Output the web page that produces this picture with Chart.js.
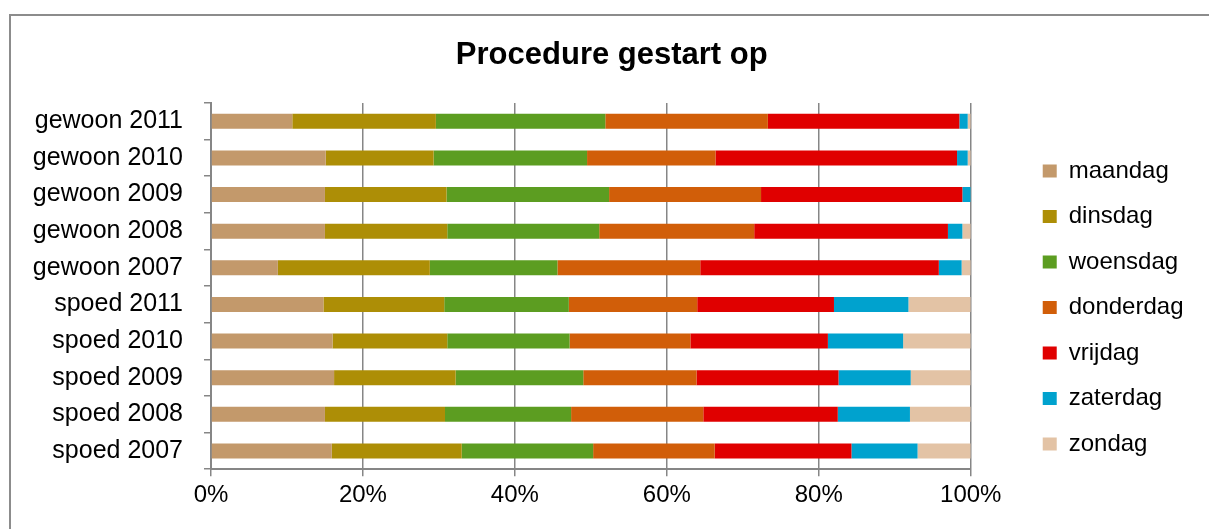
<!DOCTYPE html>
<html>
<head>
<meta charset="utf-8">
<script src="https://cdn.jsdelivr.net/npm/chart.js@4/dist/chart.umd.min.js"></script>
<style>
  html, body { margin: 0; padding: 0; background: #fff; }
  #wrap { position: relative; width: 1209px; height: 529px; overflow: hidden; }
  #frame { position: absolute; left: 9px; top: 14px; width: 1240px; height: 560px; border: 2px solid #8c8c8c; box-sizing: border-box; }
  #box { position: absolute; left: 0; top: 0; width: 1209px; height: 529px; }
</style>
</head>
<body>
<div id="wrap">
  <div id="frame"></div>
  <div id="box"><canvas id="chart"></canvas></div>
</div>
<script>
// Share of procedures started per weekday (percent of total)
const categories = ['gewoon 2011', 'gewoon 2010', 'gewoon 2009', 'gewoon 2008', 'gewoon 2007',
  'spoed 2011', 'spoed 2010', 'spoed 2009', 'spoed 2008', 'spoed 2007'];

const maandag   = [10.7, 15.1, 15.0, 15.0,  8.8, 14.8, 16.0, 16.2, 15.0, 15.9];
const dinsdag   = [18.9, 14.2, 16.0, 16.1, 20.0, 15.9, 15.1, 16.0, 15.8, 17.1];
const woensdag  = [22.3, 20.2, 21.4, 20.0, 16.8, 16.4, 16.1, 16.8, 16.6, 17.3];
const donderdag = [21.4, 16.9, 20.0, 20.4, 18.8, 16.9, 15.9, 14.9, 17.4, 16.0];
const vrijdag   = [25.2, 31.8, 26.5, 25.5, 31.4, 18.0, 18.1, 18.7, 17.7, 18.0];
const zaterdag  = [ 1.1,  1.4,  1.1,  1.9,  3.0,  9.8,  9.9,  9.5,  9.5,  8.7];
const zondag    = [ 0.4,  0.4,  0.0,  1.1,  1.2,  8.2,  8.9,  7.9,  8.0,  7.0];

const xTicks = [0, 20, 40, 60, 80, 100];

const COLORS = {
  maandag: '#c3996b',
  dinsdag: '#ad8e06',
  woensdag: '#5c9d21',
  donderdag: '#d15e09',
  vrijdag: '#e00000',
  zaterdag: '#00a2ce',
  zondag: '#e3c3a5',
  axis: '#868686',
  text: '#000000',
};

const FONT = "'Liberation Sans', Arial, sans-serif";

const series = [
  ['maandag', maandag],
  ['dinsdag', dinsdag],
  ['woensdag', woensdag],
  ['donderdag', donderdag],
  ['vrijdag', vrijdag],
  ['zaterdag', zaterdag],
  ['zondag', zondag],
];

const ctx = document.getElementById('chart').getContext('2d');
new Chart(ctx, {
  type: 'bar',
  data: {
    labels: categories,
    datasets: series.map(([name, values]) => ({
      label: name,
      data: values,
      backgroundColor: COLORS[name],
      borderWidth: 0,
      categoryPercentage: 1,
      barPercentage: 0.41,
    })),
  },
  options: {
    indexAxis: 'y',
    responsive: true,
    maintainAspectRatio: false,
    animation: false,
    layout: { padding: { left: 30, right: 15.5, top: 0, bottom: 14 } },
    plugins: {
      title: {
        display: true,
        text: 'Procedure gestart op',
        color: COLORS.text,
        font: { family: FONT, size: 31, weight: 'bold' },
        padding: { top: 36.5, bottom: 29.3 },
      },
      legend: {
        position: 'right',
        align: 'start',
        // blank title only pushes the items down
        title: { display: true, text: ' ', padding: { top: 0, bottom: 104 }, font: { family: FONT, size: 28 } },
        labels: {
          color: COLORS.text,
          font: { family: FONT, size: 24 },
          boxWidth: 14,
          boxHeight: 13,
          padding: 21.5,
        },
      },
      tooltip: { enabled: false },
    },
    scales: {
      x: {
        stacked: true,
        min: 0,
        max: 100,
        afterBuildTicks: (s) => { s.ticks = xTicks.map((v) => ({ value: v })); },
        grid: { color: COLORS.axis, lineWidth: 1.5, tickLength: 7, drawTicks: true },
        border: { color: COLORS.axis, width: 2 },
        ticks: {
          color: COLORS.text,
          padding: 5,
          font: { family: FONT, size: 24 },
          callback: (v) => v + '%',
          maxRotation: 0,
        },
      },
      y: {
        stacked: true,
        afterFit: (s) => { s.width = 181; },
        grid: { drawOnChartArea: false, drawTicks: true, tickLength: 7, color: COLORS.axis, lineWidth: 1.5, offset: true },
        border: { color: COLORS.axis, width: 2 },
        ticks: { color: COLORS.text, padding: 21, font: { family: FONT, size: 25 } },
      },
      // empty gap between plot and legend
      spacer: {
        type: 'linear',
        position: 'right',
        display: true,
        grid: { display: false },
        border: { display: false },
        ticks: { display: false },
        afterFit: (s) => { s.width = 50.5; },
      },
    },
  },
});
</script>
</body>
</html>
